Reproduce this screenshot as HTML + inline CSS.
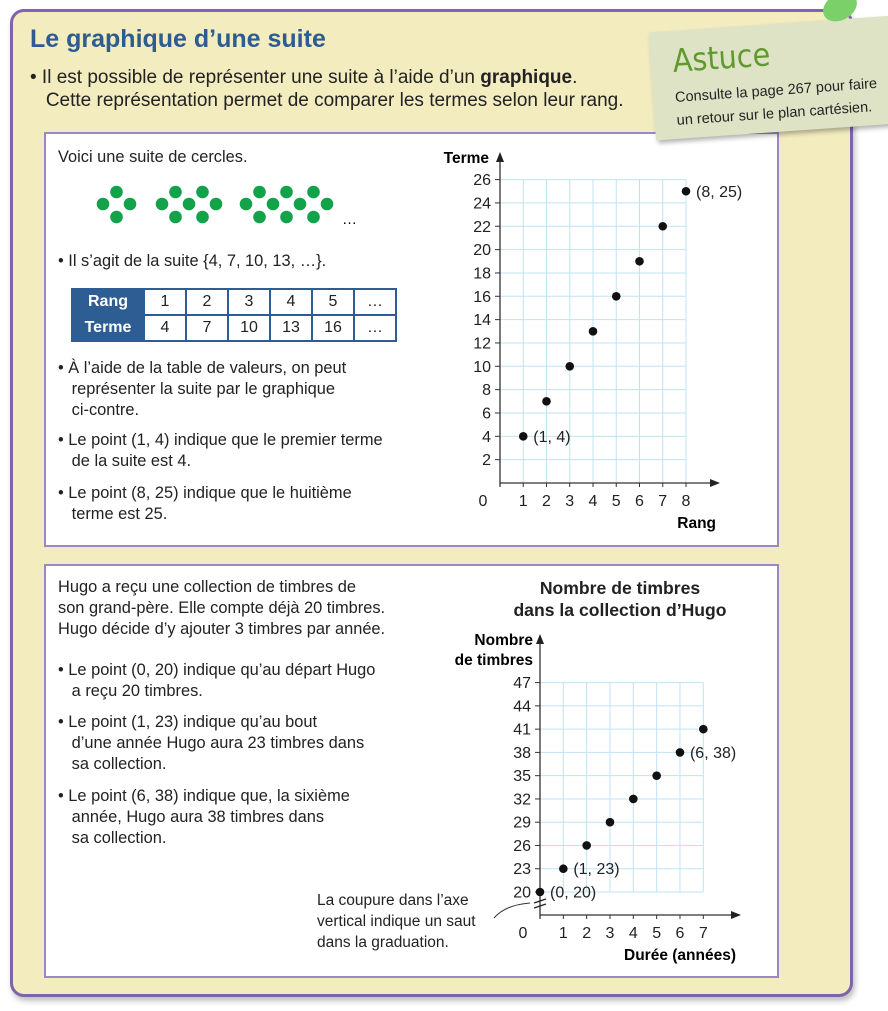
<!DOCTYPE html>
<html><head><meta charset="utf-8">
<style>
body{margin:0;width:888px;height:1011px;background:#fff;position:relative;overflow:hidden;font-family:"Liberation Sans",sans-serif;color:#222}
.abs{position:absolute}
.t{position:absolute;font-size:16.4px;line-height:21px;white-space:nowrap}
.frame{left:10px;top:9px;width:837px;height:982px;background:#f3ecbf;border:3px solid #7e63ad;border-radius:14px;box-shadow:2px 4px 6px rgba(0,0,0,.25)}
.box{left:44px;width:731px;background:#fff;border:2px solid #9a87c4}
table{border-collapse:collapse;font-size:16px}
td{border:2px solid #2d5d92;width:40px;height:24px;text-align:center;padding:0}
td.h{background:#2d5d92;color:#fff;font-weight:bold;width:70px}
</style></head><body>
<div class="abs frame"></div>
<div class="t" style="left:30px;top:24px;font-size:25px;line-height:30px;font-weight:bold;color:#2c5c92">Le graphique d’une suite</div>
<div class="t" style="left:30px;top:66px;font-size:19px;line-height:23px">• Il est possible de représenter une suite à l’aide d’un <b>graphique</b>.<br>&nbsp;&nbsp;&nbsp;Cette représentation permet de comparer les termes selon leur rang.</div>

<div class="abs box" style="top:132px;height:411px"></div>
<div class="abs box" style="top:564px;height:410px"></div>

<div class="abs" style="left:652px;top:24px;width:245px;height:108px;background:#dfe3c5;transform:rotate(-4deg);box-shadow:2px 3px 5px rgba(0,0,0,.3)">
 <div class="t" style="left:22px;top:12px;font-size:32px;line-height:36px;color:#5f9a2e;font-family:'DejaVu Sans Condensed','Liberation Sans Narrow',sans-serif">Astuce</div>
 <div class="t" style="left:22px;top:56px;font-size:14.5px;line-height:23px;font-family:'Liberation Sans Narrow',sans-serif">Consulte la page 267 pour faire<br>un retour sur le plan cartésien.</div>
</div>
<div class="abs" style="left:822px;top:-6px;width:36px;height:26px;border-radius:50%;background:#7bd06a;transform:rotate(-30deg)"></div>

<div class="t" style="left:58px;top:147px">Voici une suite de cercles.</div>
<svg class="abs" style="left:90px;top:180px" width="270" height="50" id="dots"></svg>
<div class="t" style="left:58px;top:251px">• Il s’agit de la suite {4, 7, 10, 13, …}.</div>
<table class="abs" style="left:71px;top:288px">
<tr><td class="h">Rang</td><td>1</td><td>2</td><td>3</td><td>4</td><td>5</td><td>…</td></tr>
<tr><td class="h">Terme</td><td>4</td><td>7</td><td>10</td><td>13</td><td>16</td><td>…</td></tr>
</table>
<div class="t" style="left:58px;top:358px">• À l’aide de la table de valeurs, on peut<br>&nbsp;&nbsp;&nbsp;représenter la suite par le graphique<br>&nbsp;&nbsp;&nbsp;ci-contre.</div>
<div class="t" style="left:58px;top:430px">• Le point (1, 4) indique que le premier terme<br>&nbsp;&nbsp;&nbsp;de la suite est 4.</div>
<div class="t" style="left:58px;top:483px">• Le point (8, 25) indique que le huitième<br>&nbsp;&nbsp;&nbsp;terme est 25.</div>

<div class="t" style="left:58px;top:577px">Hugo a reçu une collection de timbres de<br>son grand-père. Elle compte déjà 20 timbres.<br>Hugo décide d’y ajouter 3 timbres par année.</div>
<div class="t" style="left:58px;top:660px">• Le point (0, 20) indique qu’au départ Hugo<br>&nbsp;&nbsp;&nbsp;a reçu 20 timbres.</div>
<div class="t" style="left:58px;top:712px">• Le point (1, 23) indique qu’au bout<br>&nbsp;&nbsp;&nbsp;d’une année Hugo aura 23 timbres dans<br>&nbsp;&nbsp;&nbsp;sa collection.</div>
<div class="t" style="left:58px;top:786px">• Le point (6, 38) indique que, la sixième<br>&nbsp;&nbsp;&nbsp;année, Hugo aura 38 timbres dans<br>&nbsp;&nbsp;&nbsp;sa collection.</div>
<div class="t" style="left:317px;top:890px;font-size:15.5px">La coupure dans l’axe<br>vertical indique un saut<br>dans la graduation.</div>
<div class="t" style="left:470px;top:577px;width:300px;text-align:center;font-weight:bold;font-size:17.6px;line-height:22px">Nombre de timbres<br>dans la collection d’Hugo</div>

<svg class="abs" style="left:0;top:0" width="888" height="1011" id="charts"></svg>

<script>
const ranks1=[1,2,3,4,5,6,7,8];
const terms1=[4,7,10,13,16,19,22,25];
const yTicks1=[2,4,6,8,10,12,14,16,18,20,22,24,26];
const years2=[0,1,2,3,4,5,6,7];
const stamps2=[20,23,26,29,32,35,38,41];
const yTicks2=[20,23,26,29,32,35,38,41,44,47];
const dotCounts=[4,7,10];

const NS='http://www.w3.org/2000/svg';
function mk(p,tag,a,txt){const e=document.createElementNS(NS,tag);for(const k in a)e.setAttribute(k,a[k]);if(txt!==undefined)e.textContent=txt;p.appendChild(e);return e;}
const svg=document.getElementById('charts');

const ds=document.getElementById('dots');
const groupStart=[13,72,156];
dotCounts.forEach((n,gi)=>{
  const cols=(n-1)/3;
  const ox=groupStart[gi];
  for(let i=0;i<=cols;i++){const c=mk(ds,'circle',{cx:ox+i*27,cy:24,r:6.3,fill:'#12a24a'});}
  for(let i=0;i<cols;i++){[12,37].forEach(y=>{const c=mk(ds,'circle',{cx:ox+13.5+i*27,cy:y,r:6.3,fill:'#12a24a'});});}
});
const el=mk(ds,'text',{x:252,y:44,'font-size':15,'font-family':'Liberation Sans'},'…');


function chart(cfg){
  const {x0,y0,xs,ys,ymin,xmax,ymax}=cfg;
  const X=v=>x0+(v)*xs, Y=v=>cfg.yBase-(v-ymin)*ys;
  const g=mk(svg,'g',{});
  for(let i=1;i<=xmax;i++){const l=mk(g,'line',{x1:X(i),x2:X(i),y1:Y(ymax),y2:cfg.gridBottom,stroke:'#bfe3f5','stroke-width':1});}
  cfg.yTicks.forEach(t=>{const l=mk(g,'line',{x1:x0,x2:X(xmax),y1:Y(t),y2:Y(t),stroke:'#bfe3f5','stroke-width':1});});
  const ax=mk(g,'line',{x1:x0,x2:cfg.xArrow,y1:y0,y2:y0,stroke:'#333','stroke-width':1.3});
  mk(g,'polygon',{points:`${cfg.xArrow+8},${y0} ${cfg.xArrow-2},${y0-4} ${cfg.xArrow-2},${y0+4}`,fill:'#222'});
  const ay=mk(g,'line',{x1:x0,x2:x0,y1:y0+4,y2:cfg.yArrow,stroke:'#333','stroke-width':1.3});
  mk(g,'polygon',{points:`${x0},${cfg.yArrow-8} ${x0-4},${cfg.yArrow+2} ${x0+4},${cfg.yArrow+2}`,fill:'#222'});
  cfg.yTicks.forEach(t=>{mk(g,'line',{x1:x0-5,x2:x0,y1:Y(t),y2:Y(t),stroke:'#333'});const tx=mk(g,'text',{x:x0-9,y:Y(t)+5.5,'text-anchor':'end','font-size':16,'font-family':'Liberation Sans',fill:'#222'},String(t));});
  for(let i=1;i<=xmax;i++){mk(g,'line',{x1:X(i),x2:X(i),y1:y0,y2:y0+4,stroke:'#333'});const tx=mk(g,'text',{x:X(i),y:y0+23,'text-anchor':'middle','font-size':16,'font-family':'Liberation Sans',fill:'#222'},String(i));}
  mk(g,'text',{x:x0-17,y:y0+23,'text-anchor':'middle','font-size':16,'font-family':'Liberation Sans',fill:'#222'},'0');
  cfg.xs_.forEach((xv,i)=>{const c=mk(g,'circle',{cx:X(xv),cy:Y(cfg.ys_[i]),r:4.3,fill:'#111'});});
  cfg.labels.forEach(i=>{const tx=mk(g,'text',{x:X(cfg.xs_[i])+10,y:Y(cfg.ys_[i])+5.5,'font-size':16,'font-family':'Liberation Sans',fill:'#222'},`(${cfg.xs_[i]}, ${cfg.ys_[i]})`);});
  return {X,Y,g};
}
chart({name:'chart-suite',x0:500,y0:483,xs:23.25,ys:11.67,ymin:0,yBase:483,xmax:8,ymax:26,gridBottom:483,xArrow:712,yArrow:160,yTicks:yTicks1,xs_:ranks1,ys_:terms1,labels:[0,7]});
let t=mk(svg,'text',{x:489,y:163,'text-anchor':'end','font-size':15.5,'font-weight':'bold','font-family':'Liberation Sans'},'Terme');
t=mk(svg,'text',{x:716,y:528,'text-anchor':'end','font-size':15.5,'font-weight':'bold','font-family':'Liberation Sans'},'Rang');

chart({name:'chart-timbres',x0:540,y0:915,xs:23.33,ys:7.755,ymin:20,yBase:892,xmax:7,ymax:47,gridBottom:892,xArrow:733,yArrow:642,yTicks:yTicks2,xs_:years2,ys_:stamps2,labels:[0,1,6]});
t=mk(svg,'text',{x:533,y:645,'text-anchor':'end','font-size':15.5,'font-weight':'bold','font-family':'Liberation Sans'},'Nombre');
t=mk(svg,'text',{x:533,y:665,'text-anchor':'end','font-size':15.5,'font-weight':'bold','font-family':'Liberation Sans'},'de timbres');
t=mk(svg,'text',{x:736,y:960,'text-anchor':'end','font-size':15.5,'font-weight':'bold','font-family':'Liberation Sans'},'Durée (années)');
mk(svg,'line',{x1:534,y1:903,x2:546,y2:899,stroke:'#222','stroke-width':1.3});
mk(svg,'line',{x1:534,y1:908,x2:546,y2:904,stroke:'#222','stroke-width':1.3});
const cv=mk(svg,'path',{d:'M494 918 Q505 905 530 903',fill:'none',stroke:'#333','stroke-width':1});

</script>
</body></html>
